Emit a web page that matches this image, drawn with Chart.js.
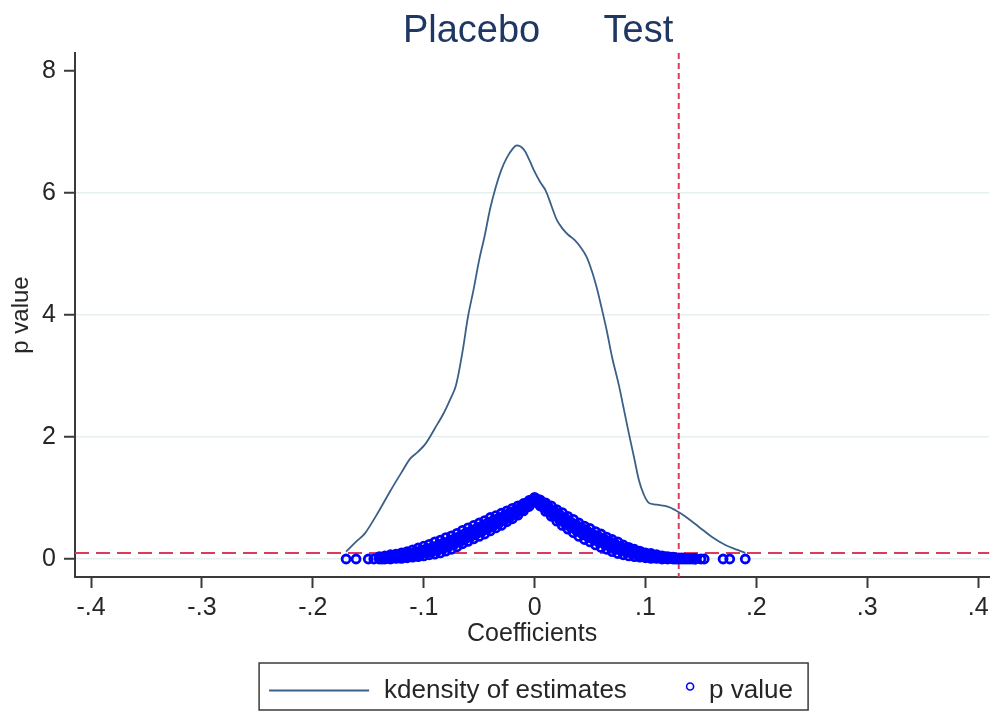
<!DOCTYPE html>
<html>
<head>
<meta charset="utf-8">
<title>Placebo Test</title>
<script src="https://cdn.jsdelivr.net/npm/chart.js@4.4.0/dist/chart.umd.min.js"></script>
<style>
  html, body { margin: 0; padding: 0; background: #fff; }
  #wrap { width: 996px; height: 711px; }
</style>
</head>
<body>
<div id="wrap"><canvas id="chart" width="996" height="711"></canvas></div>
<script>
// kernel density of the placebo estimates
var kdCoef = [-0.170, -0.160, -0.153, -0.140, -0.130, -0.120, -0.112, -0.105, -0.098, -0.090,
  -0.082, -0.076, -0.071, -0.065, -0.060, -0.055, -0.050, -0.045, -0.040, -0.035,
  -0.030, -0.025, -0.020, -0.016, -0.010, -0.005, 0.000, 0.005, 0.010, 0.015,
  0.020, 0.025, 0.030, 0.036, 0.042, 0.047, 0.052, 0.056, 0.060, 0.065,
  0.070, 0.076, 0.080, 0.085, 0.090, 0.094, 0.098, 0.103, 0.110, 0.120,
  0.127, 0.135, 0.148, 0.160, 0.172, 0.183, 0.190];
var kdDensity = [0.12, 0.30, 0.42, 0.80, 1.12, 1.42, 1.65, 1.76, 1.90, 2.14,
  2.39, 2.62, 2.84, 3.40, 3.98, 4.42, 4.90, 5.30, 5.75, 6.10,
  6.38, 6.58, 6.72, 6.78, 6.72, 6.55, 6.35, 6.18, 6.04, 5.80,
  5.56, 5.42, 5.32, 5.23, 5.10, 4.95, 4.70, 4.45, 4.15, 3.75,
  3.30, 2.85, 2.50, 2.06, 1.64, 1.30, 1.08, 0.92, 0.89, 0.86,
  0.80, 0.71, 0.53, 0.36, 0.23, 0.15, 0.10];

// p values of the placebo estimates, read from the dense band as rows
var pvCoef = [-0.140, -0.135, -0.130, -0.125, -0.120, -0.115, -0.110, -0.105, -0.100, -0.095,
  -0.090, -0.085, -0.080, -0.075, -0.070, -0.065, -0.060, -0.055, -0.050, -0.045,
  -0.040, -0.035, -0.030, -0.025, -0.020, -0.015, -0.010, -0.005, 0.000,
  0.005, 0.010, 0.015, 0.020, 0.025, 0.030, 0.035, 0.040, 0.045, 0.050,
  0.055, 0.060, 0.065, 0.070, 0.075, 0.080, 0.085, 0.090, 0.095, 0.100,
  0.105, 0.110, 0.115, 0.120, 0.125, 0.130, 0.135, 0.140, 0.145];
var pvLow = [0.00, 0.00, 0.00, 0.01, 0.01, 0.02, 0.03, 0.04, 0.05, 0.07,
  0.08, 0.10, 0.13, 0.16, 0.20, 0.25, 0.29, 0.33, 0.37, 0.41,
  0.46, 0.51, 0.55, 0.61, 0.66, 0.72, 0.79, 0.86, 0.95,
  0.87, 0.78, 0.70, 0.62, 0.55, 0.49, 0.43, 0.37, 0.32, 0.28,
  0.23, 0.19, 0.16, 0.12, 0.09, 0.07, 0.05, 0.04, 0.03, 0.02,
  0.01, 0.01, 0.00, 0.00, 0.00, 0.00, 0.00, 0.00, 0.00];
var pvMid = [0.015, 0.02, 0.03, 0.04, 0.05, 0.07, 0.08, 0.10, 0.12, 0.15,
  0.17, 0.20, 0.24, 0.27, 0.31, 0.36, 0.40, 0.44, 0.48, 0.52,
  0.57, 0.61, 0.65, 0.70, 0.74, 0.79, 0.85, 0.91, 0.98,
  0.92, 0.85, 0.78, 0.71, 0.65, 0.59, 0.54, 0.48, 0.43, 0.39,
  0.34, 0.30, 0.26, 0.22, 0.18, 0.15, 0.12, 0.10, 0.08, 0.06,
  0.05, 0.04, 0.03, 0.02, 0.02, 0.01, 0.01, 0.01, 0.01];
var pvHigh = [0.04, 0.05, 0.07, 0.08, 0.10, 0.12, 0.15, 0.18, 0.21, 0.24,
  0.28, 0.31, 0.35, 0.38, 0.42, 0.47, 0.51, 0.55, 0.59, 0.63,
  0.68, 0.71, 0.75, 0.79, 0.83, 0.87, 0.91, 0.96, 1.01,
  0.97, 0.92, 0.87, 0.81, 0.76, 0.70, 0.65, 0.59, 0.54, 0.50,
  0.45, 0.41, 0.36, 0.32, 0.28, 0.23, 0.19, 0.16, 0.13, 0.10,
  0.09, 0.07, 0.05, 0.04, 0.03, 0.02, 0.02, 0.01, 0.00];
// second set of band rows, sitting between the first set's columns
var pvCoefB = [-0.1375, -0.1325, -0.1275, -0.1225, -0.1175, -0.1125, -0.1075, -0.1025, -0.0975, -0.0925,
  -0.0875, -0.0825, -0.0775, -0.0725, -0.0675, -0.0625, -0.0575, -0.0525, -0.0475, -0.0425,
  -0.0375, -0.0325, -0.0275, -0.0225, -0.0175, -0.0125, -0.0075, -0.0025,
  0.0025, 0.0075, 0.0125, 0.0175, 0.0225, 0.0275, 0.0325, 0.0375, 0.0425, 0.0475,
  0.0525, 0.0575, 0.0625, 0.0675, 0.0725, 0.0775, 0.0825, 0.0875, 0.0925, 0.0975,
  0.1025, 0.1075, 0.1125, 0.1175, 0.1225, 0.1275, 0.1325, 0.1375, 0.1425];
var pvLowB = [0.00, 0.01, 0.02, 0.02, 0.04, 0.05, 0.06, 0.08, 0.10, 0.12,
  0.14, 0.17, 0.20, 0.24, 0.28, 0.33, 0.37, 0.41, 0.45, 0.49,
  0.54, 0.58, 0.63, 0.68, 0.73, 0.79, 0.85, 0.92,
  0.92, 0.85, 0.78, 0.71, 0.64, 0.58, 0.52, 0.47, 0.42, 0.37,
  0.33, 0.28, 0.25, 0.21, 0.17, 0.14, 0.11, 0.09, 0.07, 0.05,
  0.04, 0.03, 0.02, 0.01, 0.01, 0.00, 0.00, 0.00, 0.00];
var pvMidB = [0.015, 0.025, 0.035, 0.04, 0.06, 0.075, 0.09, 0.11, 0.135, 0.155,
  0.18, 0.215, 0.245, 0.285, 0.325, 0.375, 0.415, 0.455, 0.495, 0.54,
  0.585, 0.625, 0.67, 0.72, 0.765, 0.82, 0.88, 0.945,
  0.95, 0.885, 0.815, 0.75, 0.685, 0.625, 0.565, 0.515, 0.465, 0.415,
  0.37, 0.325, 0.29, 0.25, 0.21, 0.175, 0.145, 0.12, 0.095, 0.075,
  0.06, 0.045, 0.035, 0.025, 0.02, 0.01, 0.01, 0.005, 0.005];
var pvHighB = [0.03, 0.04, 0.05, 0.06, 0.08, 0.10, 0.12, 0.14, 0.17, 0.19,
  0.22, 0.26, 0.29, 0.33, 0.37, 0.42, 0.46, 0.50, 0.54, 0.59,
  0.63, 0.67, 0.71, 0.76, 0.80, 0.85, 0.91, 0.97,
  0.98, 0.92, 0.85, 0.79, 0.73, 0.67, 0.61, 0.56, 0.51, 0.46,
  0.41, 0.37, 0.33, 0.29, 0.25, 0.21, 0.18, 0.15, 0.12, 0.10,
  0.08, 0.06, 0.05, 0.04, 0.03, 0.02, 0.02, 0.01, 0.01];
// isolated estimates in the tails
var tailCoef = [-0.170, -0.161, -0.150, -0.145, 0.150, 0.153, 0.170, 0.176, 0.190];
var tailP = [0.00, 0.00, 0.00, 0.00, 0.00, 0.00, 0.00, 0.00, 0.00];

var xTicks = [-0.4, -0.3, -0.2, -0.1, 0, 0.1, 0.2, 0.3, 0.4];
var xTickLabels = ['-.4', '-.3', '-.2', '-.1', '0', '.1', '.2', '.3', '.4'];
var yTicks = [0, 2, 4, 6, 8];
var yTickLabels = ['0', '2', '4', '6', '8'];

var trueCoef = 0.13;   // vertical reference line
var pCutoff = 0.1;     // horizontal reference line

var colors = {
  kdensity: '#3b6088',
  pvalue: '#0000ff',
  refLine: '#dc3c5c',
  title: '#1f3763',
  axis: '#3a3a3a',
  text: '#262626',
  grid: '#e6efef'
};
var FONT = "'Liberation Sans', Arial, sans-serif";

function xy(xs, ys) {
  return xs.map(function(x, i) { return { x: x, y: ys[i] }; });
}

var pvPoints = xy(pvCoef, pvLow).concat(
  xy(pvCoef, pvMid), xy(pvCoef, pvHigh),
  xy(pvCoefB, pvLowB), xy(pvCoefB, pvMidB), xy(pvCoefB, pvHighB),
  xy(tailCoef, tailP));

var refLines = {
  id: 'refLines',
  beforeDatasetsDraw: function(chart) {
    var ctx = chart.ctx, a = chart.chartArea;
    var py = chart.scales.y.getPixelForValue(pCutoff);
    var px = chart.scales.x.getPixelForValue(trueCoef);
    ctx.save();
    ctx.strokeStyle = colors.refLine;
    ctx.lineWidth = 2;
    ctx.setLineDash([14, 7]);
    ctx.beginPath(); ctx.moveTo(a.left, py); ctx.lineTo(a.right, py); ctx.stroke();
    ctx.setLineDash([6, 4]);
    ctx.beginPath(); ctx.moveTo(px, a.top); ctx.lineTo(px, a.bottom); ctx.stroke();
    ctx.restore();
  }
};

// Stata style title and boxed legend
var frame = {
  id: 'frame',
  afterDraw: function(chart) {
    var ctx = chart.ctx, a = chart.chartArea;
    var cx = (a.left + a.right) / 2;
    ctx.save();
    ctx.fillStyle = colors.title;
    ctx.font = '38px ' + FONT;
    ctx.textAlign = 'center';
    ctx.textBaseline = 'middle';
    ctx.fillText('Placebo      Test', cx + 6, 32);

    var bx = cx - 273, by = 663, bw = 549, bh = 47, my = by + bh / 2 + 4;
    ctx.strokeStyle = colors.axis;
    ctx.lineWidth = 1.5;
    ctx.strokeRect(bx, by, bw, bh);
    ctx.strokeStyle = colors.kdensity;
    ctx.lineWidth = 2;
    ctx.beginPath(); ctx.moveTo(bx + 10, my); ctx.lineTo(bx + 110, my); ctx.stroke();
    ctx.strokeStyle = colors.pvalue;
    ctx.lineWidth = 1.6;
    ctx.beginPath(); ctx.arc(bx + 431, my - 4, 3.5, 0, Math.PI * 2); ctx.stroke();
    ctx.fillStyle = colors.text;
    ctx.font = '26px ' + FONT;
    ctx.textAlign = 'left';
    ctx.fillText('kdensity of estimates', bx + 125, my);
    ctx.fillText('p value', bx + 450, my);
    ctx.restore();
  }
};

new Chart(document.getElementById('chart'), {
  type: 'scatter',
  data: {
    datasets: [{
      label: 'p value',
      data: pvPoints,
      order: 1,
      pointStyle: 'circle',
      pointRadius: 4.0,
      pointBorderWidth: 2.8,
      borderColor: colors.pvalue,
      backgroundColor: 'rgba(0,0,0,0)'
    }, {
      label: 'kdensity of estimates',
      data: xy(kdCoef, kdDensity),
      order: 2,
      showLine: true,
      tension: 0.35,
      pointRadius: 0,
      borderWidth: 1.8,
      borderColor: colors.kdensity
    }]
  },
  plugins: [refLines, frame],
  options: {
    responsive: false,
    animation: false,
    layout: { padding: { top: 53, right: 0, bottom: 64, left: 0 } },
    plugins: {
      legend: { display: false },
      tooltip: { enabled: false },
      title: { display: false }
    },
    scales: {
      x: {
        type: 'linear',
        min: -0.4145,
        max: 0.41,
        afterFit: function(s) { s.height = 70; },
        afterBuildTicks: function(s) { s.ticks = xTicks.map(function(v) { return { value: v }; }); },
        border: { display: true, color: colors.axis, width: 2 },
        grid: { drawOnChartArea: false, drawTicks: true, tickLength: 11, tickColor: colors.axis, tickWidth: 2 },
        ticks: {
          padding: 5,
          color: colors.text,
          font: { family: FONT, size: 25 },
          maxRotation: 0,
          callback: function(v) { return xTickLabels[xTicks.indexOf(v)]; }
        },
        title: {
          display: true,
          text: 'Coefficients',
          color: colors.text,
          font: { family: FONT, size: 25, lineHeight: 1 },
          padding: { top: 0, bottom: 0 }
        }
      },
      y: {
        type: 'linear',
        min: -0.295,
        max: 8.295,
        afterFit: function(s) { s.width = 75; },
        afterBuildTicks: function(s) { s.ticks = yTicks.map(function(v) { return { value: v }; }); },
        border: { display: true, color: colors.axis, width: 2 },
        grid: {
          color: function(c) { return c.tick && c.tick.value === 8 ? 'rgba(0,0,0,0)' : colors.grid; },
          lineWidth: 1.5,
          drawTicks: true,
          tickLength: 11,
          tickColor: colors.axis,
          tickWidth: 2
        },
        ticks: {
          padding: 8,
          color: colors.text,
          font: { family: FONT, size: 25 },
          callback: function(v) { return yTickLabels[yTicks.indexOf(v)]; }
        },
        title: {
          display: true,
          text: 'p value',
          color: colors.text,
          font: { family: FONT, size: 24, lineHeight: 1 },
          padding: { top: 9, bottom: 0 }
        }
      }
    }
  }
});
</script>
</body>
</html>
